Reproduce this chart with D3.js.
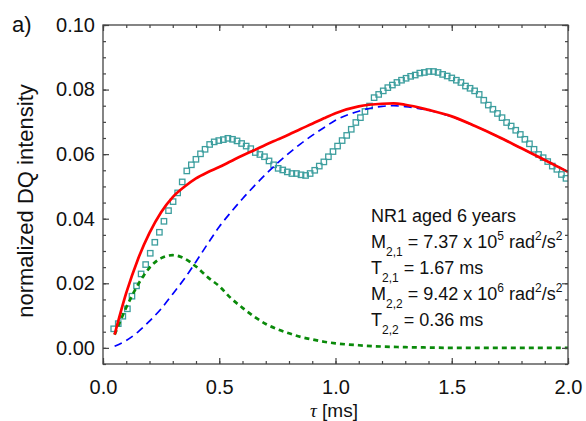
<!DOCTYPE html>
<html><head><meta charset="utf-8">
<script src="https://cdn.jsdelivr.net/npm/d3@7"></script>
<style>body{margin:0;background:#fff}</style>
</head><body><svg id="c" width="586" height="421"></svg>
<script>
// measured DQ intensity (squares), regular tau grid
const tauStart = 0.046, tauStep = 0.01965;
const dqValues = [
0.0059,0.0075,0.0098,0.0121,0.0160,0.0192,0.0229,0.0258,0.0293,0.0327,
0.0358,0.0392,0.0425,0.0453,0.0480,0.0514,0.0548,0.0567,0.0584,0.0601,
0.0615,0.0630,0.0638,0.0642,0.0645,0.0649,0.0646,0.0641,0.0633,0.0625,
0.0617,0.0605,0.0599,0.0592,0.0579,0.0567,0.0556,0.0551,0.0545,0.0540,
0.0540,0.0536,0.0534,0.0540,0.0550,0.0563,0.0576,0.0592,0.0608,0.0625,
0.0642,0.0658,0.0677,0.0698,0.0713,0.0732,0.0749,0.0775,0.0785,0.0796,
0.0806,0.0814,0.0822,0.0829,0.0835,0.0841,0.0845,0.0851,0.0853,0.0856,
0.0856,0.0853,0.0847,0.0842,0.0836,0.0829,0.0822,0.0811,0.0804,0.0796,
0.0785,0.0767,0.0752,0.0739,0.0726,0.0713,0.0698,0.0687,0.0674,0.0661,
0.0646,0.0632,0.0615,0.0599,0.0589,0.0577,0.0563,0.0553,0.0537,0.0525];
// fit curves
const fitTau = [0.05,0.10,0.15,0.20,0.25,0.30,0.35,0.40,0.45,0.50,0.55,0.60,0.65,0.70,0.75,0.80,0.85,0.90,0.95,1.00,1.1,1.2,1.25,1.3,1.4,1.5,1.6,1.7,1.8,1.9,2.0];
const fitTotal = [0.0041,0.0170,0.0274,0.0356,0.0420,0.0467,0.0499,0.0525,0.0544,0.0560,0.0578,0.0596,0.0612,0.0629,0.0645,0.0661,0.0678,0.0694,0.0711,0.0727,0.0748,0.0756,0.0757,0.0753,0.0737,0.0717,0.0687,0.0654,0.0618,0.0582,0.0545];
const fitComp1 = [0.0005,0.0023,0.0049,0.0083,0.0121,0.0167,0.0214,0.0267,0.0322,0.0375,0.0420,0.0462,0.0501,0.0538,0.0572,0.0603,0.0632,0.0658,0.0682,0.0705,0.0733,0.0748,0.0750,0.0747,0.0736,0.0716,0.0687,0.0654,0.0618,0.0582,0.0545];
const fitComp2 = [0.0041,0.0125,0.0195,0.0248,0.0278,0.0287,0.0277,0.0252,0.0219,0.0191,0.0154,0.0124,0.0097,0.0074,0.0058,0.0045,0.0034,0.0026,0.0019,0.0014,0.0008,0.0004,0.0003,0.0002,0.0001,0.0000,0.0000,0.0000,0.0000,0.0000,0.0000];
const xTicks = [0.0,0.5,1.0,1.5,2.0];
const yTicks = [0.00,0.02,0.04,0.06,0.08,0.10];

const svg = d3.select("#c");
const L=103, T=25, R=568, B=364;
const x = d3.scaleLinear().domain([0,2.0]).range([L,R]);
const y = d3.scaleLinear().domain([-0.005,0.10]).range([B,T]);
const font = "'Liberation Sans', Arial, sans-serif";

svg.append("defs").append("clipPath").attr("id","clip")
  .append("rect").attr("x",L).attr("y",T).attr("width",R-L).attr("height",B-T);

const g = svg.append("g").attr("clip-path","url(#clip)");
const line = (arr) => d3.line().x((d,i)=>x(fitTau[i])).y(d=>y(d)).curve(d3.curveMonotoneX)(arr);

// squares
const dq = dqValues.map((v,i)=>({t: tauStart + i*tauStep, v}));
const S = 5.4;
g.selectAll("rect.dq").data(dq).enter().append("rect")
  .attr("x",d=>x(d.t)-S/2).attr("y",d=>y(d.v)-S/2).attr("width",S).attr("height",S)
  .attr("fill","none").attr("stroke","#3c9e9e").attr("stroke-width",1.3);

g.append("path").attr("d",line(fitComp1)).attr("fill","none").attr("stroke","#0000ff")
  .attr("stroke-width",1.7).attr("stroke-dasharray","8,5");
g.append("path").attr("d",line(fitComp2)).attr("fill","none").attr("stroke","#0a8a0a")
  .attr("stroke-width",2.7).attr("stroke-dasharray","5,4");
g.append("path").attr("d",line(fitTotal)).attr("fill","none").attr("stroke","#ff0000")
  .attr("stroke-width",2.7);

// axes (ticks inward, mirrored)
const axisColor = "#444";
function styleAxis(sel){
  sel.select(".domain").remove();
  sel.selectAll("line").attr("stroke",axisColor).attr("stroke-width",1.2);
  sel.selectAll("text").attr("font-family",font).attr("font-size","20px").attr("fill","#111");
}
const xMinor = d3.range(0,2.001,0.1);
const yMinor = d3.range(-0.005,0.1001,0.005);
svg.append("g").attr("transform",`translate(0,${B})`)
  .call(d3.axisBottom(x).tickValues(xMinor).tickSize(-3).tickFormat("")).call(styleAxis);
svg.append("g").attr("transform",`translate(0,${B})`)
  .call(d3.axisBottom(x).tickValues(xTicks).tickSize(-6).tickPadding(16).tickFormat(d3.format(".1f"))).call(styleAxis);
svg.append("g").attr("transform",`translate(0,${T})`)
  .call(d3.axisTop(x).tickValues(xMinor).tickSize(-3).tickFormat("")).call(styleAxis);
svg.append("g").attr("transform",`translate(0,${T})`)
  .call(d3.axisTop(x).tickValues(xTicks).tickSize(-6).tickFormat("")).call(styleAxis);
svg.append("g").attr("transform",`translate(${L},0)`)
  .call(d3.axisLeft(y).tickValues(yMinor).tickSize(-3).tickFormat("")).call(styleAxis);
svg.append("g").attr("transform",`translate(${L},0)`)
  .call(d3.axisLeft(y).tickValues(yTicks).tickSize(-6).tickPadding(8).tickFormat(d3.format(".2f"))).call(styleAxis);
svg.append("g").attr("transform",`translate(${R},0)`)
  .call(d3.axisRight(y).tickValues(yMinor).tickSize(-3).tickFormat("")).call(styleAxis);
svg.append("g").attr("transform",`translate(${R},0)`)
  .call(d3.axisRight(y).tickValues(yTicks).tickSize(-6).tickFormat("")).call(styleAxis);

svg.append("rect").attr("x",L).attr("y",T).attr("width",R-L).attr("height",B-T)
  .attr("fill","none").attr("stroke",axisColor).attr("stroke-width",1.3);

// labels
svg.append("text").attr("x",12).attr("y",32).attr("font-family",font).attr("font-size","22px").attr("fill","#111").text("a)");
svg.append("text").attr("transform",`translate(33,201) rotate(-90)`).attr("text-anchor","middle")
  .attr("font-family",font).attr("font-size","22px").attr("fill","#111").text("normalized DQ intensity");
const xl = svg.append("text").attr("x",334).attr("y",417).attr("text-anchor","middle")
  .attr("font-family",font).attr("font-size","19px").attr("fill","#111");
xl.append("tspan").attr("font-family","'Liberation Serif', 'Times New Roman', serif").attr("font-style","italic").text("τ");
xl.append("tspan").text(" [ms]");

// annotation
const ann = [
  [["NR1 aged 6 years",""]],
  [["M",""],["2,1","sub"],[" = 7.37 x 10",""],["5","sup"],[" rad",""],["2","sup"],["/s",""],["2","sup"]],
  [["T",""],["2,1","sub"],[" = 1.67 ms",""]],
  [["M",""],["2,2","sub"],[" = 9.42 x 10",""],["6","sup"],[" rad",""],["2","sup"],["/s",""],["2","sup"]],
  [["T",""],["2,2","sub"],[" = 0.36 ms",""]]
];
const annY = [222, 248, 274, 300, 326];
ann.forEach((parts,li)=>{
  const t = svg.append("text").attr("x",371).attr("y",annY[li]).attr("font-family",font)
    .attr("font-size","18px").attr("fill","#111");
  let cur = 0;
  parts.forEach(([s,kind])=>{
    const sp = t.append("tspan").text(s);
    let target = kind==="sub"?8:kind==="sup"?-8:0;
    if(kind) sp.attr("font-size","12px");
    sp.attr("dy", target-cur); cur = target;
  });
});
</script></body></html>
